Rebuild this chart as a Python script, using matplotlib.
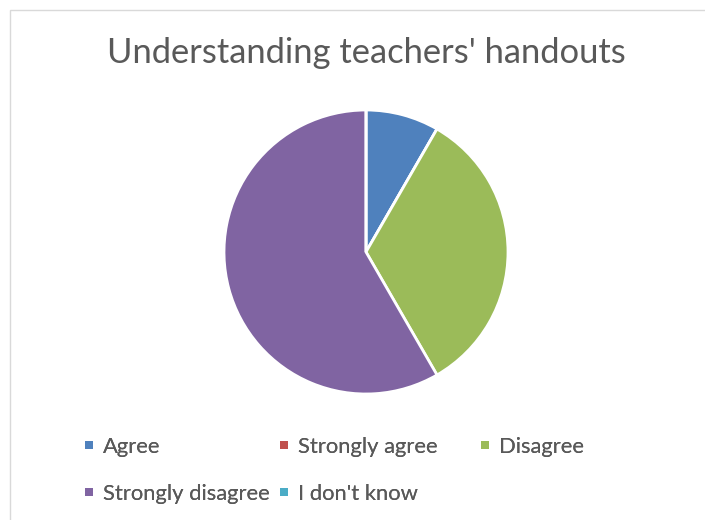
import matplotlib.pyplot as plt
from matplotlib.patches import Rectangle
from matplotlib.legend_handler import HandlerPatch

# Survey responses
labels = ['Agree', 'Strongly agree', 'Disagree', 'Strongly disagree', "I don't know"]
counts = [1, 0, 4, 7, 0]
colors = ['#4F81BD', '#C0504D', '#9BBB59', '#8064A2', '#4BACC6']

plt.rcParams['font.family'] = ['Lato', 'DejaVu Sans']

W, H = 705, 520
fig = plt.figure(figsize=(W / 100, H / 100), dpi=100)

# chart frame
fig.patches.append(Rectangle((9.5 / W, -0.05), 1.2, 1.05 - 9.5 / H, transform=fig.transFigure,
                             fill=False, edgecolor='#d9d9d9', linewidth=1))

fig.text(366 / W, 1 - 53 / H, "Understanding teachers' handouts", ha='center', va='center',
         fontsize=24.8, color='#595959')

cx, cy, r = 366, 252, 142
ax = fig.add_axes([(cx - r) / W, 1 - (cy + r) / H, 2 * r / W, 2 * r / H])
wedges, _ = ax.pie(counts, colors=colors, startangle=90, counterclock=False,
                   wedgeprops=dict(edgecolor='white', linewidth=2))
ax.set_xlim(-1.0, 1.0)
ax.set_ylim(-1.0, 1.0)
ax.set_aspect('equal')


# small square legend keys
def square_key(legend, orig_handle, xdescent, ydescent, width, height, fontsize):
    s = 5.6
    return Rectangle((width / 2 - xdescent - s / 2, height / 2 - ydescent - s / 2), s, s)


# legend: fixed-width columns, filled row by row
col_x = [85, 280, 481]
row_y = [447, 494]
for i, (w, lab) in enumerate(zip(wedges, labels)):
    x, y = col_x[i % 3], row_y[i // 3]
    leg = fig.legend([w], [lab], loc='center left', bbox_to_anchor=(x / W, 1 - y / H),
                     frameon=False, fontsize=15.8, labelcolor='#595959',
                     handlelength=0.36, handletextpad=0.45, borderpad=0, borderaxespad=0,
                     handler_map={w: HandlerPatch(patch_func=square_key)})
    for h in leg.legend_handles:
        h.set_edgecolor('none')
        h.set_linewidth(0)
    fig.add_artist(leg)

fig.savefig('out.png', dpi=100)
